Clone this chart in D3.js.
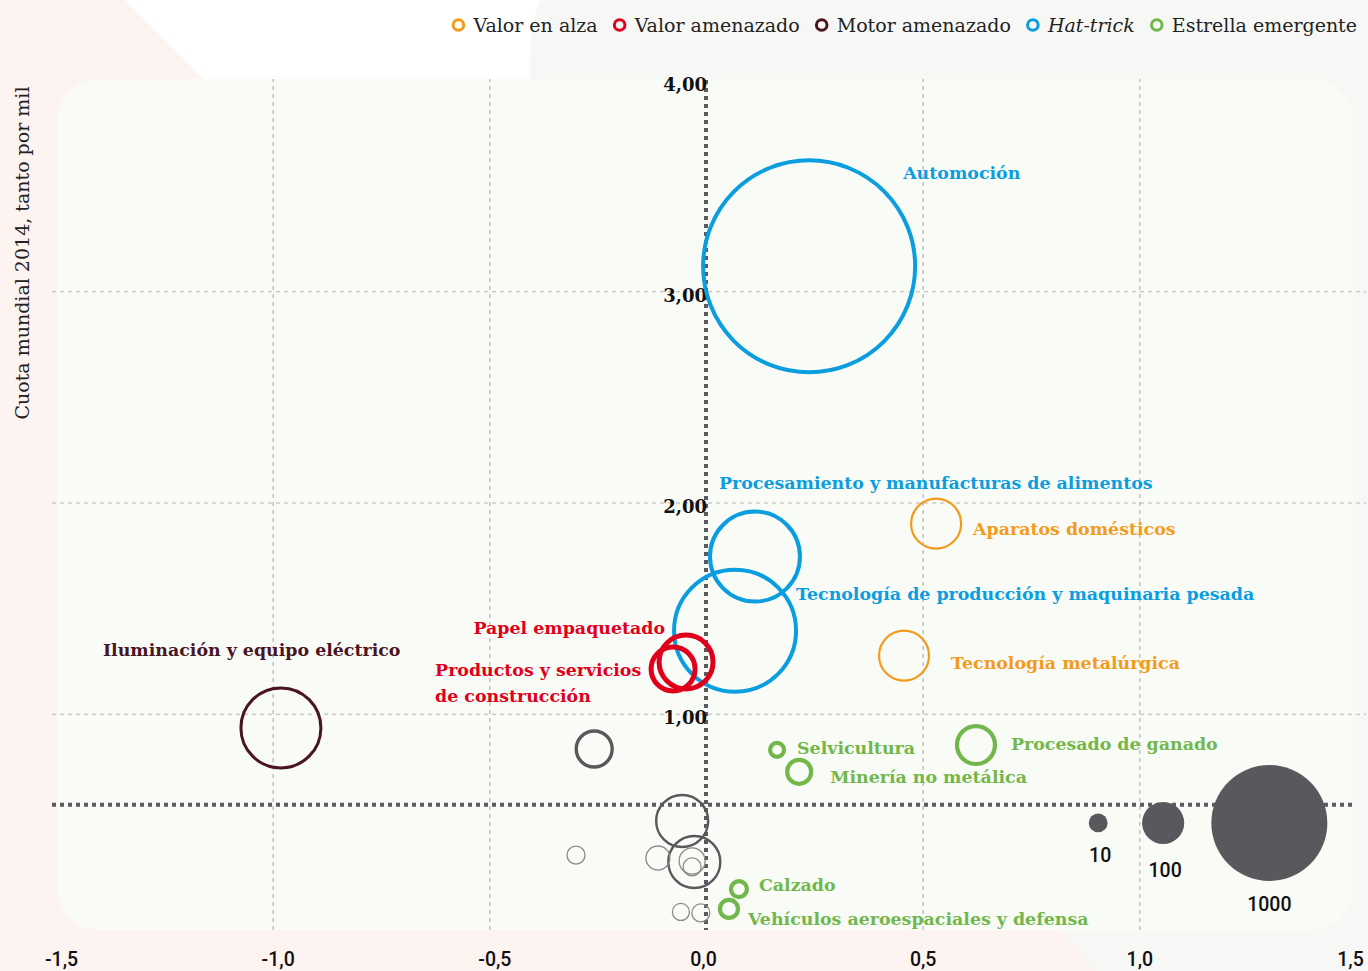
<!DOCTYPE html>
<html><head><meta charset="utf-8">
<script src="https://cdn.jsdelivr.net/npm/d3@7"></script>
<style>html,body{margin:0;padding:0;background:#fdf3f1;}svg{display:block;}</style>
</head><body>
<svg id="chart" width="1368" height="971"></svg>
<script>
// ---------------- DATA ----------------
const industries = [
  "Automoción",
  "Procesamiento y manufacturas de alimentos",
  "Tecnología de producción y maquinaria pesada",
  "Aparatos domésticos",
  "Tecnología metalúrgica",
  "Papel empaquetado",
  "Productos y servicios de construcción",
  "Iluminación y equipo eléctrico",
  "Selvicultura",
  "Minería no metálica",
  "Procesado de ganado",
  "Calzado",
  "Vehículos aeroespaciales y defensa",
  "otro1","otro2","otro3","otro4","otro5","otro6","otro7","otro8","otro9"
];
const groups = [
  "hattrick","hattrick","hattrick","alza","alza","amenazado","amenazado","motor",
  "emergente","emergente","emergente","emergente","emergente",
  "otros","otros","otros","otros","otros","otros","otros","otros","otros"
];
// change in world share (x) and world share 2014, per thousand (y)
const shareChange = [0.238, 0.113, 0.067, 0.531, 0.457, -0.046, -0.076, -0.981,
  0.164, 0.215, 0.623, 0.076, 0.053,
  -0.258, -0.055, -0.027, -0.111, -0.032, -0.032, -0.300, -0.058, -0.012];
const share2014 = [3.118, 1.744, 1.393, 1.900, 1.275, 1.245, 1.212, 0.933,
  0.829, 0.725, 0.852, 0.170, 0.076,
  0.833, 0.492, 0.298, 0.317, 0.303, 0.275, 0.331, 0.062, 0.057];
const sizeValue = [3570, 576, 1114, 151, 151, 181, 111, 444,
  3.1, 22, 77, 5.5, 8.6,
  67, 166, 166, 22, 28, 8.6, 8.6, 7, 8.6];

const legendKeys = ["alza","amenazado","motor","hattrick","emergente"];
const legendLabels = ["Valor en alza","Valor amenazado","Motor amenazado","Hat-trick","Estrella emergente"];
const sizeLegendValues = [10, 100, 1000];
const sizeLegendX = [0.905, 1.055, 1.30];
const sizeLegendY = 0.483;
const xTicks = [-1.5, -1.0, -0.5, 0.0, 0.5, 1.0, 1.5];
const yTicks = [1, 2, 3, 4];
const referenceShare = 0.569;
const yTitle = "Cuota mundial 2014, tanto por mil";

// ---------------- STYLE / LAYOUT ----------------
const colors = {alza:"#f29b1c", amenazado:"#e1001b", motor:"#4a1523", hattrick:"#0a9ddf", emergente:"#72b74b", otros:"#59595d"};
const strokeW = {alza:2.2, amenazado:5, motor:3, hattrick:4, emergente:4.2};
const labelPos = {
  "Automoción":{dx:94,dy:-87,a:"start"},
  "Procesamiento y manufacturas de alimentos":{dx:-36,dy:-68,a:"start"},
  "Tecnología de producción y maquinaria pesada":{dx:61,dy:-31,a:"start"},
  "Aparatos domésticos":{dx:37,dy:11,a:"start"},
  "Tecnología metalúrgica":{dx:47,dy:13,a:"start"},
  "Papel empaquetado":{dx:-21,dy:-28,a:"end"},
  "Productos y servicios de construcción":{dx:-238,dy:7,a:"start",lines:["Productos y servicios","de construcción"]},
  "Iluminación y equipo eléctrico":{dx:-178,dy:-72,a:"start"},
  "Selvicultura":{dx:20,dy:4,a:"start"},
  "Minería no metálica":{dx:31,dy:11,a:"start"},
  "Procesado de ganado":{dx:35,dy:5,a:"start"},
  "Calzado":{dx:20,dy:2,a:"start"},
  "Vehículos aeroespaciales y defensa":{dx:19,dy:16,a:"start"}
};
const W = 1368, H = 971;
const PANEL = {x0:57, y0:79, x1:1353, y1:930};

const svg = d3.select("#chart");
const x = d3.scaleLinear().domain([-1.5, 1.5]).range([56, 1356]);
const y = d3.scaleLinear().domain([0, 4]).range([925, 80]);
const r = d3.scaleSqrt().domain([0, 1000]).range([4, 58]);

// ---------------- BACKGROUND ----------------
svg.append("rect").attr("width", W).attr("height", H).attr("fill", "#fdf3f1");
svg.append("path").attr("fill", "#f7f8f5")
  .attr("d", `M540,0 L${W},0 L${W},${H} L1093,${H} L1060,930 L530,930 L530,80 Q528,30 540,0 Z`);
svg.append("path").attr("fill", "#ffffff")
  .attr("d", "M125,0 L540,0 Q528,30 530,80 L205,80 Z");
svg.append("rect").attr("x", PANEL.x0).attr("y", PANEL.y0)
  .attr("width", PANEL.x1 - PANEL.x0).attr("height", PANEL.y1 - PANEL.y0)
  .attr("rx", 42).attr("fill", "#f9fbf6");

// ---------------- GRID ----------------
const fmtX = d => d3.format(".1f")(d).replace("−", "-").replace(".", ",");
const fmtY = d => d3.format(".2f")(d).replace(".", ",");

const gx = svg.append("g").attr("transform", `translate(0,${PANEL.y1})`)
  .call(d3.axisBottom(x).tickValues(xTicks.filter(d => d !== 0 && Math.abs(d) < 1.5))
    .tickSize(-(PANEL.y1 - PANEL.y0)).tickFormat(""));
gx.select(".domain").remove();
gx.selectAll("line").attr("stroke", "#b4b4b4").attr("stroke-width", 1.2).attr("stroke-dasharray", "4,4");

const gy = svg.append("g").attr("transform", `translate(52,0)`)
  .call(d3.axisLeft(y).tickValues(yTicks.filter(d => d < 4)).tickSize(-(1366 - 52)).tickFormat(""));
gy.select(".domain").remove();
gy.selectAll("line").attr("stroke", "#b4b4b4").attr("stroke-width", 1.2).attr("stroke-dasharray", "4,4");

// zero / reference lines
svg.append("line").attr("x1", x(0)).attr("x2", x(0)).attr("y1", PANEL.y0 + 1).attr("y2", PANEL.y1)
  .attr("stroke", "#5b5b5f").attr("stroke-width", 4).attr("stroke-dasharray", "4,4");
svg.append("line").attr("x1", 52).attr("x2", 1356).attr("y1", y(referenceShare)).attr("y2", y(referenceShare))
  .attr("stroke", "#5b5b5f").attr("stroke-width", 4).attr("stroke-dasharray", "4,4");

// ---------------- AXIS LABELS ----------------
const xa = svg.append("g").attr("transform", `translate(0,966)`)
  .call(d3.axisBottom(x).tickValues(xTicks).tickSize(0).tickPadding(0).tickFormat(fmtX));
xa.select(".domain").remove();
xa.selectAll("text").attr("y", 0).attr("dy", 0)
  .attr("dx", d => d < 0 ? 5 : (d === 0 ? -3 : (d >= 1.5 ? -6 : 0)))
  .attr("font-family", "Roboto, 'Noto Sans', sans-serif").attr("font-weight", 500)
  .attr("font-size", 19.5).attr("fill", "#111");

const ya = svg.append("g").attr("transform", `translate(707,10)`)
  .call(d3.axisLeft(y).tickValues(yTicks).tickSize(0).tickPadding(0).tickFormat(fmtY));
ya.select(".domain").remove();
ya.selectAll("text").attr("dy", 0)
  .attr("font-family", "'DejaVu Serif', serif").attr("font-weight", "bold")
  .attr("font-size", 18).attr("fill", "#111");

svg.append("text").attr("transform", "translate(29,253) rotate(-90)")
  .attr("text-anchor", "middle").attr("font-family", "'DejaVu Serif', serif")
  .attr("font-size", 19).attr("fill", "#222").text(yTitle);

// ---------------- BUBBLES ----------------
const data = industries.map((n, i) => ({name: n, group: groups[i], xv: shareChange[i], yv: share2014[i], s: sizeValue[i]}));
const order = ["otros","motor","alza","hattrick","amenazado","emergente"];
const sorted = data.slice().sort((a, b) => order.indexOf(a.group) - order.indexOf(b.group));

svg.append("g").selectAll("circle").data(sorted).join("circle")
  .attr("cx", d => x(d.xv)).attr("cy", d => y(d.yv)).attr("r", d => r(d.s))
  .attr("fill", "none")
  .attr("stroke", d => d.group === "otros" ? (r(d.s) > 15 ? "#59595d" : "#8a8a8d") : colors[d.group])
  .attr("stroke-width", d => d.group === "otros" ? (r(d.s) > 20 ? 2.4 : (r(d.s) > 15 ? 3.4 : 1.3)) : strokeW[d.group]);

// labels
const lbl = svg.append("g").attr("font-family", "'DejaVu Serif', serif").attr("font-weight", "bold").attr("font-size", 17.4);
data.filter(d => labelPos[d.name]).forEach(d => {
  const p = labelPos[d.name];
  const t = lbl.append("text").attr("x", x(d.xv) + p.dx).attr("y", y(d.yv) + p.dy)
    .attr("text-anchor", p.a).attr("fill", colors[d.group]);
  const lines = p.lines || [d.name];
  lines.forEach((l, i) => t.append("tspan").attr("x", x(d.xv) + p.dx).attr("dy", i ? 26 : 0).text(l));
});

// ---------------- SIZE LEGEND ----------------
const sl = svg.append("g");
sizeLegendValues.forEach((v, i) => {
  const cx = x(sizeLegendX[i]), cy = y(sizeLegendY);
  sl.append("circle").attr("cx", cx).attr("cy", cy).attr("r", r(v)).attr("fill", "#59595d");
  sl.append("text").attr("x", cx + (i < 2 ? 2 : 0)).attr("y", cy + r(v) + (i === 1 ? 33 : 30)).attr("text-anchor", "middle")
    .attr("font-family", "Roboto, 'Noto Sans', sans-serif").attr("font-weight", 500)
    .attr("font-size", 19.5).attr("fill", "#111").text(v);
});

// ---------------- LEGEND ----------------
const lg = svg.append("g").attr("font-family", "'DejaVu Serif', serif").attr("font-size", 19).attr("fill", "#222");
const items = [];
legendKeys.forEach((k, i) => {
  const g = lg.append("g");
  g.append("circle").attr("cx", 6).attr("cy", 25).attr("r", 5.3).attr("fill", "none")
    .attr("stroke", colors[k]).attr("stroke-width", 3);
  const t = g.append("text").attr("x", 21).attr("y", 32).text(legendLabels[i]);
  if (k === "hattrick") t.attr("font-style", "italic");
  items.push({g, w: 21 + t.node().getComputedTextLength()});
});
const gap = 16;
const total = d3.sum(items, d => d.w) + gap * (items.length - 1);
let cursor = 1357 - total;
items.forEach(it => { it.g.attr("transform", `translate(${cursor},0)`); cursor += it.w + gap; });
</script>
</body></html>
